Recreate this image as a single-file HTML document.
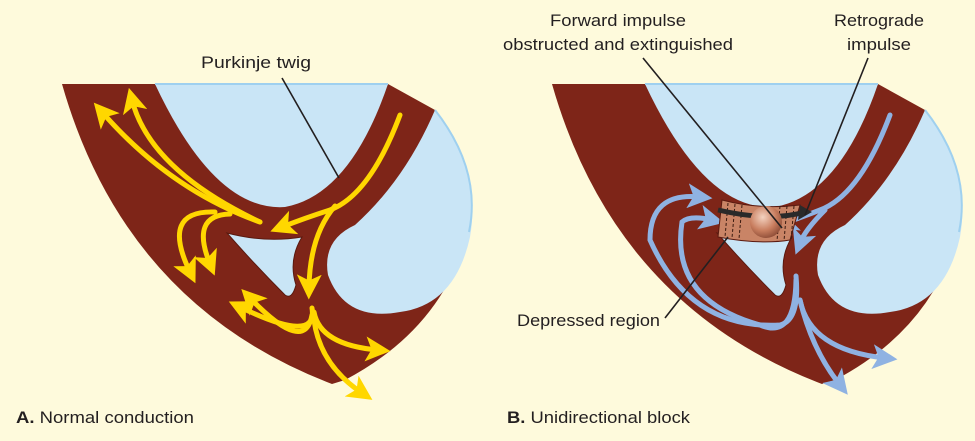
<!DOCTYPE html>
<html><head><meta charset="utf-8"><style>
html,body{margin:0;padding:0;background:#fefadc;}
svg{display:block}
text{font-family:"Liberation Sans",sans-serif;font-size:17px;fill:#231f20}
</style></head><body>
<svg width="975" height="441" viewBox="0 0 975 441">
<defs>
<marker id="ay" markerWidth="5" markerHeight="5" refX="2.5" refY="2.5" orient="auto" markerUnits="strokeWidth"><path d="M0,0 L5,2.5 L0,5 L1.2,2.5Z" fill="#ffd700"/></marker>
<marker id="ab" markerWidth="5" markerHeight="5" refX="2.5" refY="2.5" orient="auto" markerUnits="strokeWidth"><path d="M0,0 L5,2.5 L0,5 L1.2,2.5Z" fill="#8fb2e2"/></marker>
<radialGradient id="sph" cx="0.4" cy="0.35" r="0.7"><stop offset="0" stop-color="#f4d2c0"/><stop offset="0.6" stop-color="#c87d5e"/><stop offset="1" stop-color="#8a4a35"/></radialGradient>
<g id="heart">
<path d="M62,84 L388,84 L435,110 Q480,170 467,237 Q440,330 345,380 L332,384 Q125,305 62,84Z" fill="#7e2518"/>
<path d="M155,84 L388,84 Q350,195 285,207 Q215,212 155,84Z" fill="#c9e5f6"/>
<path d="M435,110 Q482,170 470,237 Q455,305 400,312 Q345,322 328,275 Q322,240 355,225 Q405,180 435,110Z" fill="#c9e5f6"/>
<path d="M155,84 L388,84" stroke="#9fd0ef" stroke-width="2"/>
<path d="M435,110 Q482,170 469,232" stroke="#9fd0ef" stroke-width="2" fill="none"/>
<path d="M227,233 Q265,243 302,237 Q288,260 296,285 Q292,300 285,295 Q255,265 227,233Z" fill="#c9e5f6" stroke="#5a1a10" stroke-width="1"/>
</g>
</defs>
<use href="#heart"/>
<use href="#heart" x="490"/>

<g fill="none" stroke="#ffd700" stroke-width="5" stroke-linecap="round">
<path d="M400,115 Q370,195 330,210 Q305,218 282,227" marker-end="url(#ay)"/>
<path d="M335,206 Q310,235 309,287" marker-end="url(#ay)"/>
<path d="M260,222 Q170,190 102,112" marker-end="url(#ay)"/>
<path d="M260,222 Q150,170 132,100" marker-end="url(#ay)"/>
<path d="M215,212 Q160,210 190,272" marker-end="url(#ay)"/>
<path d="M230,214 Q190,215 210,264" marker-end="url(#ay)"/>
<path d="M312,308 Q318,345 240,307" marker-end="url(#ay)"/>
<path d="M312,315 Q305,355 250,298" marker-end="url(#ay)"/>
<path d="M314,312 Q320,345 378,350" marker-end="url(#ay)"/>
<path d="M314,320 Q320,365 362,393" marker-end="url(#ay)"/>
</g>

<g fill="none" stroke="#8fb2e2" stroke-width="5" stroke-linecap="round">
<path d="M890,115 Q860,195 820,210 Q805,216 785,223" marker-end="url(#ab)"/>
<path d="M825,210 Q805,230 800,243" marker-end="url(#ab)"/>
<path d="M796,276 Q800,320 780,325 Q690,330 650,240 Q650,192 700,197" marker-end="url(#ab)"/>
<path d="M796,280 Q795,340 760,325 Q670,300 682,222 Q690,215 712,220" marker-end="url(#ab)"/>
<path d="M800,300 Q810,350 885,358" marker-end="url(#ab)"/>
<path d="M800,300 Q812,350 840,385" marker-end="url(#ab)"/>
</g>

<path d="M722,200 Q760,210 800,205 L790,240 Q760,245 718,237Z" fill="#c98466" stroke="#5a1a10" stroke-width="1"/>
<g stroke="#3a1a10" stroke-width="1" stroke-dasharray="3,2">
<line x1="728" y1="203" x2="725" y2="237"/><line x1="735" y1="204" x2="732" y2="238"/><line x1="742" y1="205" x2="739" y2="239"/><line x1="780" y1="206" x2="777" y2="241"/><line x1="787" y1="206" x2="784" y2="241"/><line x1="794" y1="206" x2="791" y2="240"/>
</g>
<path d="M718,210 Q770,222 805,212" stroke="#2a2a2a" stroke-width="5" fill="none"/>
<path d="M800,205 L812,212 L798,220Z" fill="#2a2a2a"/>
<circle cx="766" cy="222" r="16" fill="url(#sph)"/>

<g stroke="#231f20" stroke-width="1.6">
<line x1="282" y1="78" x2="339" y2="178"/>
<line x1="643" y1="58" x2="782" y2="228"/>
<line x1="868" y1="58" x2="805" y2="215"/>
<line x1="665" y1="318" x2="728" y2="237"/>
</g>

<text x="256" y="68" text-anchor="middle" textLength="110" lengthAdjust="spacingAndGlyphs">Purkinje twig</text>
<text x="618" y="26" text-anchor="middle" textLength="136" lengthAdjust="spacingAndGlyphs">Forward impulse</text>
<text x="618" y="50" text-anchor="middle" textLength="230" lengthAdjust="spacingAndGlyphs">obstructed and extinguished</text>
<text x="879" y="26" text-anchor="middle" textLength="90" lengthAdjust="spacingAndGlyphs">Retrograde</text>
<text x="879" y="50" text-anchor="middle" textLength="64" lengthAdjust="spacingAndGlyphs">impulse</text>
<text x="517" y="326" textLength="143" lengthAdjust="spacingAndGlyphs">Depressed region</text>
<text x="16" y="423" textLength="178" lengthAdjust="spacingAndGlyphs"><tspan font-weight="bold">A.</tspan> Normal conduction</text>
<text x="507" y="423" textLength="183" lengthAdjust="spacingAndGlyphs"><tspan font-weight="bold">B.</tspan> Unidirectional block</text>
</svg>
</body></html>
